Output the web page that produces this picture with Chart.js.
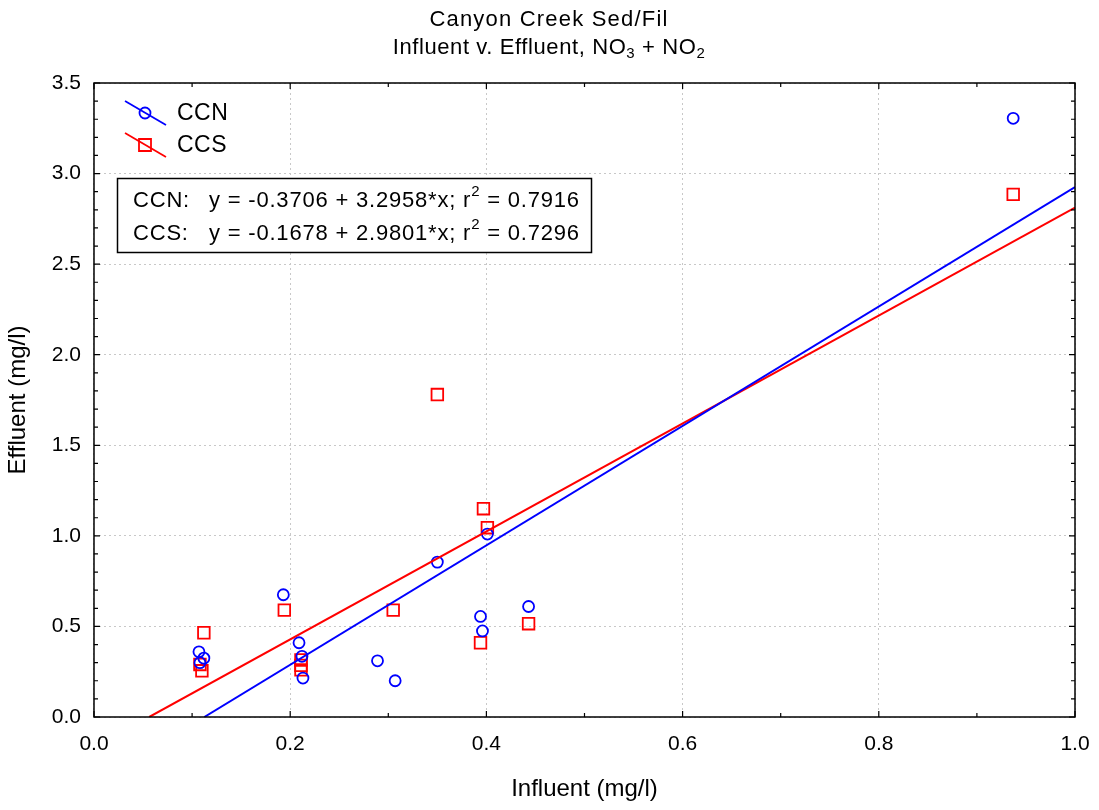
<!DOCTYPE html>
<html lang="en">
<head>
  <meta charset="UTF-8">
  <title>Canyon Creek Sed/Fil</title>
  <script src="https://cdn.jsdelivr.net/npm/chart.js"></script>
  <style>
    body { margin: 0; background: #ffffff; }
    .wrap { width: 1099px; height: 810px; position: relative; }
  </style>
</head>
<body>
  <div class="wrap"><canvas id="chart"></canvas></div>

  <script>
    // data
    const seriesNames = ['CCN', 'CCS'];
    const ccnX = [0.107, 0.112, 0.108, 0.193, 0.209, 0.212, 0.213, 0.289, 0.307, 0.350, 0.401, 0.394, 0.396, 0.443, 0.937];
    const ccnY = [0.360, 0.325, 0.300, 0.675, 0.410, 0.335, 0.215, 0.310, 0.200, 0.855, 1.010, 0.555, 0.475, 0.610, 3.305];
    const ccsX = [0.112, 0.108, 0.110, 0.194, 0.211, 0.211, 0.211, 0.305, 0.350, 0.397, 0.401, 0.394, 0.443, 0.937];
    const ccsY = [0.465, 0.290, 0.255, 0.590, 0.315, 0.285, 0.260, 0.590, 1.780, 1.150, 1.045, 0.410, 0.515, 2.885];
    // fitted lines: [intercept, slope] and r squared, as printed in the box
    const ccnFit = [-0.3706, 3.2958];
    const ccsFit = [-0.1678, 2.9801];
    const rSquared = [0.7916, 0.7296];
    const xTicks = [0.0, 0.2, 0.4, 0.6, 0.8, 1.0];
    const yTicks = [0.0, 0.5, 1.0, 1.5, 2.0, 2.5, 3.0, 3.5];

    const FONT = '"Liberation Sans", Arial, sans-serif';
    const BLUE = '#0000ff';
    const RED = '#ff0000';

    function pts(xs, ys) {
      return xs.map((x, i) => ({ x: x, y: ys[i] }));
    }
    // end points of a fit line, starting where it crosses y = 0
    function fitLine(fit) {
      const x0 = Math.max(xTicks[0], -fit[0] / fit[1]);
      const x1 = xTicks[xTicks.length - 1];
      return [{ x: x0, y: fit[0] + fit[1] * x0 }, { x: x1, y: fit[0] + fit[1] * x1 }];
    }

    // title, frame, inner ticks, legend and equation box
    const decorations = {
      id: 'decorations',
      afterDraw(chart) {
        const ctx = chart.ctx;
        const area = chart.chartArea;
        const xs = chart.scales.x;
        const ys = chart.scales.y;
        ctx.save();

        // title with subscripts
        ctx.fillStyle = '#000';
        ctx.textBaseline = 'middle';
        ctx.letterSpacing = '1.2px';
        ctx.font = '22px ' + FONT;
        ctx.textAlign = 'center';
        ctx.fillText('Canyon Creek Sed/Fil', 549, 20);
        ctx.letterSpacing = '0.6px';
        const parts = [['Influent v. Effluent, NO', 0], ['3', 1], [' + NO', 0], ['2', 1]];
        let w = 0;
        parts.forEach(p => {
          ctx.font = (p[1] ? '15px ' : '22px ') + FONT;
          w += ctx.measureText(p[0]).width;
        });
        let cx = 549 - w / 2;
        ctx.textAlign = 'left';
        parts.forEach(p => {
          ctx.font = (p[1] ? '15px ' : '22px ') + FONT;
          ctx.fillText(p[0], cx, p[1] ? 54 : 48);
          cx += ctx.measureText(p[0]).width;
        });

        // frame
        ctx.letterSpacing = '0px';
        ctx.strokeStyle = '#000';
        ctx.lineWidth = 1.5;
        ctx.strokeRect(area.left, area.top, area.right - area.left, area.bottom - area.top);

        // ticks pointing inward, minor every 0.1
        ctx.lineWidth = 1.2;
        ctx.beginPath();
        for (let v = 0; v <= 1.0001; v += 0.1) {
          const px = xs.getPixelForValue(v);
          const len = Math.round(v * 10) % 2 === 0 ? 6 : 4;
          ctx.moveTo(px, area.bottom); ctx.lineTo(px, area.bottom - len);
          ctx.moveTo(px, area.top); ctx.lineTo(px, area.top + len);
        }
        for (let v = 0; v <= 3.5001; v += 0.1) {
          const py = ys.getPixelForValue(v);
          const len = Math.round(v * 10) % 5 === 0 ? 6 : 4;
          ctx.moveTo(area.left, py); ctx.lineTo(area.left + len, py);
          ctx.moveTo(area.right, py); ctx.lineTo(area.right - len, py);
        }
        ctx.stroke();

        // legend
        const legendRows = [[BLUE, 'circle', 113], [RED, 'rect', 145]];
        legendRows.forEach((row, i) => {
          const mx = 145, my = row[2];
          ctx.strokeStyle = row[0];
          ctx.lineWidth = 1.8;
          ctx.beginPath();
          ctx.moveTo(mx - 20, my - 12);
          ctx.lineTo(mx + 21, my + 12);
          ctx.stroke();
          ctx.beginPath();
          if (row[1] === 'circle') {
            ctx.arc(mx, my, 5.5, 0, Math.PI * 2);
          } else {
            ctx.rect(mx - 6, my - 6, 12, 12);
          }
          ctx.stroke();
          ctx.fillStyle = '#000';
          ctx.font = '23px ' + FONT;
          ctx.letterSpacing = '0.5px';
          ctx.textAlign = 'left';
          ctx.fillText(seriesNames[i], 177, my + 1);
          ctx.letterSpacing = '0px';
        });

        // equation box
        ctx.fillStyle = '#fff';
        ctx.fillRect(117.5, 178.5, 474, 74);
        ctx.strokeStyle = '#000';
        ctx.lineWidth = 1.5;
        ctx.strokeRect(117.5, 178.5, 474, 74);
        const fits = [ccnFit, ccsFit];
        ctx.letterSpacing = '0.8px';
        fits.forEach((fit, i) => {
          const y = 201 + i * 33;
          ctx.fillStyle = '#000';
          ctx.font = '22px ' + FONT;
          ctx.fillText(seriesNames[i] + ':', 133, y);
          const s1 = 'y = ' + fit[0].toFixed(4) + ' + ' + fit[1].toFixed(4) + '*x; r';
          let tx = 209;
          ctx.fillText(s1, tx, y);
          tx += ctx.measureText(s1).width;
          ctx.font = '15px ' + FONT;
          ctx.fillText('2', tx, y - 9);
          tx += ctx.measureText('2').width;
          ctx.font = '22px ' + FONT;
          ctx.fillText(' = ' + rSquared[i].toFixed(4), tx, y);
        });
        ctx.restore();
      }
    };

    new Chart(document.getElementById('chart'), {
      type: 'scatter',
      data: {
        datasets: [
          {
            label: seriesNames[0] + ' fit',
            data: fitLine(ccnFit),
            showLine: true,
            borderColor: BLUE,
            borderWidth: 2,
            pointRadius: 0
          },
          {
            label: seriesNames[1] + ' fit',
            data: fitLine(ccsFit),
            showLine: true,
            borderColor: RED,
            borderWidth: 2,
            pointRadius: 0
          },
          {
            label: seriesNames[0],
            data: pts(ccnX, ccnY),
            pointStyle: 'circle',
            pointRadius: 5.5,
            borderColor: BLUE,
            backgroundColor: 'rgba(0,0,0,0)',
            borderWidth: 1.8
          },
          {
            label: seriesNames[1],
            data: pts(ccsX, ccsY),
            pointStyle: 'rect',
            pointRadius: 8.2,
            borderColor: RED,
            backgroundColor: 'rgba(0,0,0,0)',
            borderWidth: 1.8
          }
        ]
      },
      options: {
        responsive: true,
        maintainAspectRatio: false,
        animation: false,
        layout: { padding: { top: 83, right: 0, bottom: 6, left: 4 } },
        plugins: {
          legend: { display: false },
          title: { display: false },
          tooltip: { enabled: false }
        },
        scales: {
          x: {
            type: 'linear',
            min: xTicks[0],
            max: xTicks[xTicks.length - 1],
            afterBuildTicks: axis => { axis.ticks = xTicks.map(v => ({ value: v })); },
            // keep the plot's right edge where the reference has it
            afterFit: axis => { axis.paddingRight = 24; },
            ticks: {
              callback: v => v.toFixed(1),
              color: '#000',
              font: { family: FONT, size: 21 },
              padding: 15,
              maxRotation: 0
            },
            grid: { color: '#c8c8c8', lineWidth: 1, drawTicks: false },
            border: { display: false, dash: [2, 3] },
            title: {
              display: true,
              text: 'Influent (mg/l)',
              color: '#000',
              font: { family: FONT, size: 24 },
              padding: { top: 3, bottom: 0 }
            }
          },
          y: {
            type: 'linear',
            min: yTicks[0],
            max: yTicks[yTicks.length - 1],
            afterBuildTicks: axis => { axis.ticks = yTicks.map(v => ({ value: v })); },
            ticks: {
              callback: v => v.toFixed(1),
              color: '#000',
              font: { family: FONT, size: 21 },
              padding: 13
            },
            grid: { color: '#c8c8c8', lineWidth: 1, drawTicks: false },
            border: { display: false, dash: [2, 3] },
            title: {
              display: true,
              text: 'Effluent (mg/l)',
              color: '#000',
              font: { family: FONT, size: 24 },
              padding: { top: 0, bottom: 6 }
            }
          }
        }
      },
      plugins: [decorations]
    });
  </script>
</body>
</html>
